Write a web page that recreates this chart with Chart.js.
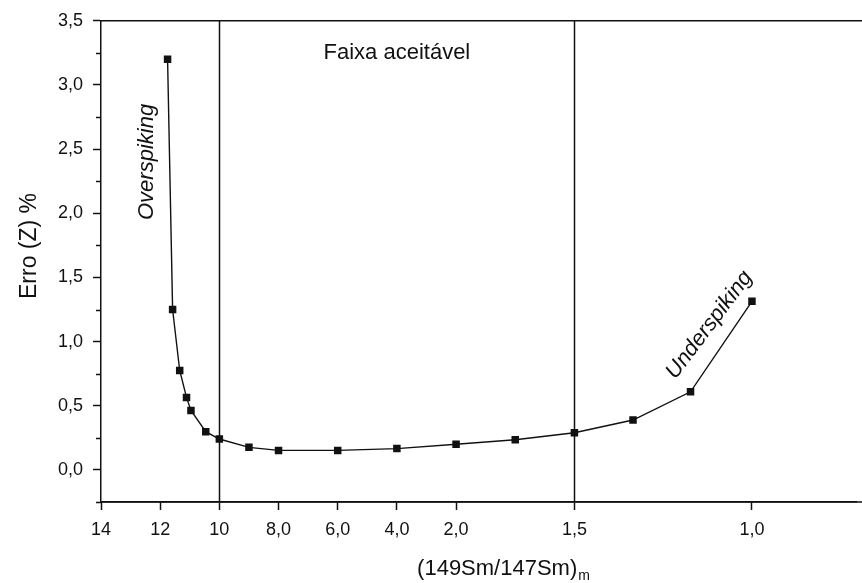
<!DOCTYPE html>
<html lang="pt">
<head>
  <meta charset="UTF-8">
  <title>Erro (Z) % x (149Sm/147Sm)m</title>
  <script src="https://cdn.jsdelivr.net/npm/chart.js"></script>
  <style>
    html, body { margin: 0; padding: 0; background: #ffffff; }
    .chart-container { width: 862px; height: 583px; }
  </style>
</head>
<body>
  <div class="chart-container">
    <canvas id="erroChart"></canvas>
  </div>

  <script>
    const ratioValues = [11.75, 11.58, 11.34, 11.11, 10.96, 10.46, 10.0, 9.0, 8.0, 6.0, 4.0, 2.0, 1.75, 1.5, 1.335, 1.173, 1.0];
    const erroValues = [3.2, 1.25, 0.775, 0.565, 0.464, 0.298, 0.241, 0.176, 0.152, 0.152, 0.166, 0.2, 0.235, 0.29, 0.389, 0.609, 1.314];

    // x axis is a broken scale: each tick sits in its own slot
    const tickRatios = [14, 12, 10, 8, 6, 4, 2, 1.5, 1.0];
    const tickLabels = ['14', '12', '10', '8,0', '6,0', '4,0', '2,0', '1,5', '1,0'];
    const tickSlots = [0, 1, 2, 3, 4, 5, 6, 8, 11];
    const xRange = [14, 0.705];

    const yTicks = [0, 0.5, 1.0, 1.5, 2.0, 2.5, 3.0, 3.5];
    const yMinorTicks = [-0.25, 0.25, 0.75, 1.25, 1.75, 2.25, 2.75, 3.25];
    const yRange = [-0.25, 3.5];

    // limits of the acceptable range
    const limitRatios = [10, 1.5];

    const FONT = '"Liberation Sans", Arial, Helvetica, sans-serif';
    const INK = '#111111';

    function ratioToSlot(r) {
      for (let i = 0; i < tickRatios.length - 1; i++) {
        const a = tickRatios[i], b = tickRatios[i + 1];
        if ((r <= a && r >= b) || i === tickRatios.length - 2) {
          return tickSlots[i] + (a - r) / (a - b) * (tickSlots[i + 1] - tickSlots[i]);
        }
      }
      return 0;
    }

    const points = ratioValues.map((r, i) => ({ x: ratioToSlot(r), y: erroValues[i] }));

    const notes = [
      { text: 'Faixa aceitável', ratio: 4.0, value: 3.2, angle: 0, italic: false, baseline: 'alphabetic' },
      { text: 'Overspiking', ratio: 12.45, value: 2.4, angle: -90, italic: true, baseline: 'middle' },
      { text: 'Underspiking', ratio: 1.12, value: 1.13, angle: -53, italic: true, baseline: 'middle' }
    ];

    const decorations = {
      id: 'decorations',
      beforeDatasetsDraw(chart) {
        const { ctx, chartArea: area, scales: { x, y } } = chart;
        ctx.save();
        ctx.strokeStyle = INK;
        ctx.lineWidth = 1.5;
        // top frame line and bottom axis run to the right edge of the picture
        ctx.beginPath();
        ctx.moveTo(area.left, area.top);
        ctx.lineTo(chart.width, area.top);
        ctx.moveTo(area.left, area.bottom);
        ctx.lineTo(chart.width, area.bottom);
        ctx.stroke();
        // vertical limit lines
        limitRatios.forEach(r => {
          const px = Math.round(x.getPixelForValue(ratioToSlot(r))) + 0.5;
          ctx.beginPath();
          ctx.moveTo(px, area.top);
          ctx.lineTo(px, area.bottom);
          ctx.stroke();
        });
        // minor y ticks
        yMinorTicks.forEach(v => {
          const py = Math.round(y.getPixelForValue(v)) + 0.5;
          ctx.beginPath();
          ctx.moveTo(area.left - 5, py);
          ctx.lineTo(area.left, py);
          ctx.stroke();
        });
        ctx.restore();
      },
      afterDraw(chart) {
        const { ctx, chartArea: area, scales: { x, y } } = chart;
        ctx.save();
        ctx.fillStyle = INK;

        notes.forEach(n => {
          ctx.save();
          ctx.translate(x.getPixelForValue(ratioToSlot(n.ratio)), y.getPixelForValue(n.value));
          ctx.rotate(n.angle * Math.PI / 180);
          ctx.font = (n.italic ? 'italic ' : '') + '22px ' + FONT;
          ctx.textAlign = 'center';
          ctx.textBaseline = n.baseline;
          ctx.fillText(n.text, 0, 0);
          ctx.restore();
        });

        // y axis title
        ctx.save();
        ctx.translate(30, 246);
        ctx.rotate(-Math.PI / 2);
        ctx.font = '23px ' + FONT;
        ctx.textAlign = 'center';
        ctx.textBaseline = 'middle';
        ctx.fillText('Erro (Z) %', 0, 0);
        ctx.restore();

        // x axis title with subscript m
        ctx.font = '22px ' + FONT;
        const main = '(149Sm/147Sm)';
        const wMain = ctx.measureText(main).width;
        ctx.font = '14px ' + FONT;
        const wSub = ctx.measureText('m').width;
        const startX = 503 - (wMain + wSub) / 2;
        const baseY = 575;
        ctx.textAlign = 'left';
        ctx.textBaseline = 'alphabetic';
        ctx.font = '22px ' + FONT;
        ctx.fillText(main, startX, baseY);
        ctx.font = '14px ' + FONT;
        ctx.fillText('m', startX + wMain + 1, baseY + 5);
        ctx.restore();
      }
    };

    const ctx = document.getElementById('erroChart').getContext('2d');
    new Chart(ctx, {
      type: 'line',
      data: {
        datasets: [{
          label: 'Erro (Z) %',
          data: points,
          borderColor: INK,
          borderWidth: 1.4,
          backgroundColor: INK,
          pointStyle: 'rect',
          pointRadius: 5.3,
          pointBorderWidth: 0,
          pointBackgroundColor: INK,
          tension: 0,
          fill: false
        }]
      },
      options: {
        responsive: true,
        maintainAspectRatio: false,
        animation: false,
        layout: { padding: { top: 19, right: 1, left: 0, bottom: 0 } },
        plugins: {
          legend: { display: false },
          tooltip: { enabled: false }
        },
        scales: {
          x: {
            type: 'linear',
            min: ratioToSlot(xRange[0]),
            max: ratioToSlot(xRange[1]),
            afterBuildTicks: scale => { scale.ticks = tickSlots.map(v => ({ value: v })); },
            afterFit: scale => { scale.height = 81; scale.paddingRight = 0; scale.paddingLeft = 0; },
            grid: { drawOnChartArea: false, drawTicks: true, tickLength: 8, tickColor: INK, tickWidth: 1.5 },
            border: { display: true, color: INK, width: 1.5 },
            ticks: {
              autoSkip: false,
              maxRotation: 0,
              padding: 9,
              color: INK,
              font: { family: FONT, size: 18 },
              callback: (v, i) => tickLabels[i]
            }
          },
          y: {
            type: 'linear',
            min: yRange[0],
            max: yRange[1],
            afterBuildTicks: scale => { scale.ticks = yTicks.map(v => ({ value: v })); },
            afterFit: scale => { scale.width = 101; },
            grid: { drawOnChartArea: false, drawTicks: true, tickLength: 8, tickColor: INK, tickWidth: 1.5 },
            border: { display: true, color: INK, width: 1.5 },
            ticks: {
              padding: 10,
              color: INK,
              font: { family: FONT, size: 18 },
              callback: v => v.toFixed(1).replace('.', ',')
            }
          }
        }
      },
      plugins: [decorations]
    });
  </script>
</body>
</html>
